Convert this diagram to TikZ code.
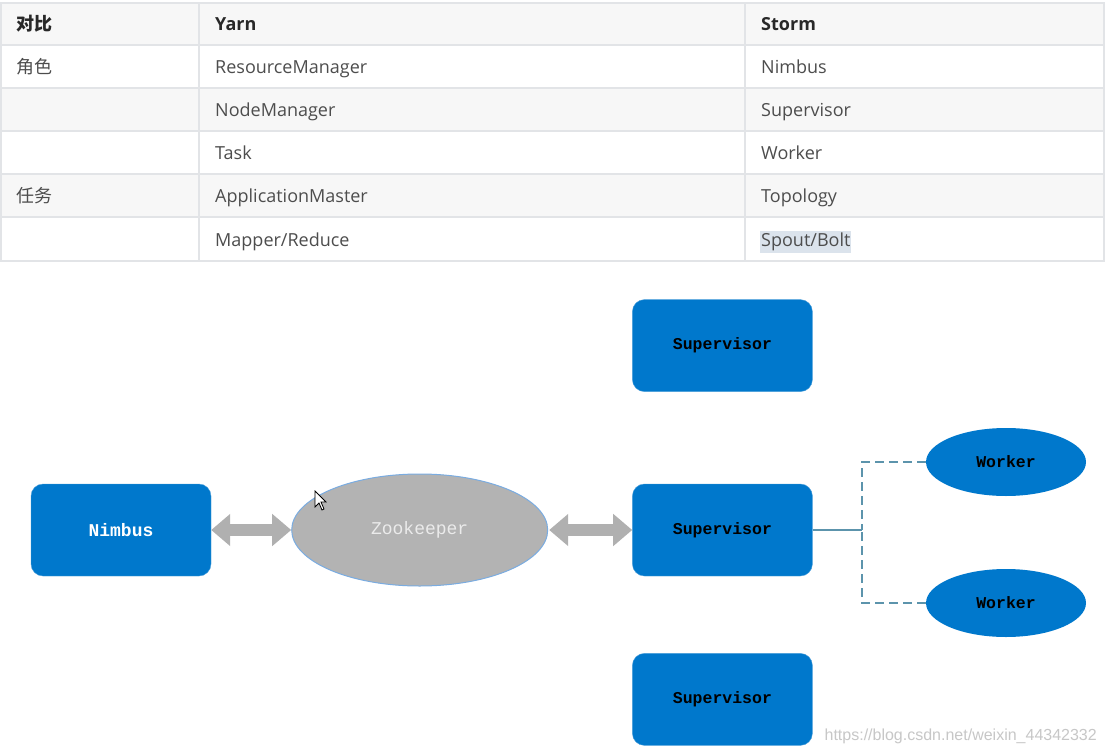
\documentclass[tikz,border=0pt]{standalone}
\usepackage{fontspec}
\setmainfont{Open Sans}
\newfontfamily\cjk{Noto Sans CJK SC}
\newfontfamily\boxfont{Liberation Mono}
\newfontfamily\markfont{Liberation Sans}
\usetikzlibrary{positioning, shapes.geometric, arrows.meta}

\definecolor{stormblue}{RGB}{0,120,204}
\definecolor{zkgray}{RGB}{179,179,179}
\definecolor{zkedge}{RGB}{122,172,225}
\definecolor{arrowgray}{RGB}{176,176,176}
\definecolor{linkteal}{RGB}{92,148,172}
\definecolor{gridline}{RGB}{226,228,231}
\definecolor{rowgray}{RGB}{247,247,247}
\definecolor{cellink}{RGB}{77,77,77}
\definecolor{headink}{RGB}{40,40,40}
\definecolor{marklight}{RGB}{219,227,236}

\tikzset{
  cell/.style={anchor=base west, inner sep=0pt, text=cellink, font=\fontsize{18}{20}\selectfont},
  headcell/.style={cell, text=headink, font=\fontsize{18}{20}\selectfont\bfseries},
  daemon/.style={rectangle, rounded corners=12pt, fill=stormblue, draw=stormblue!70!white,
                 minimum width=180pt, minimum height=92pt, inner sep=0pt,
                 font=\boxfont\bfseries\fontsize{16.5}{18}\selectfont},
  worker/.style={ellipse, fill=stormblue, draw=none, minimum width=160pt, minimum height=68pt,
                 inner sep=0pt, font=\boxfont\bfseries\fontsize{16.5}{18}\selectfont},
  blockarrow/.style={draw=arrowgray, line width=12pt,
                     {Triangle[length=19pt,width=31pt]}-{Triangle[length=19pt,width=31pt]}},
  link/.style={draw=linkteal, line width=1.2pt}
}

\begin{document}
\begin{tikzpicture}[x=1pt, y=-1pt]
  \useasboundingbox[fill=white] (0,0) rectangle (1105,754);

  % table
  \fill[rowgray] (1,3) rectangle (1104,45);
  \fill[rowgray] (1,88) rectangle (1104,131);
  \fill[rowgray] (1,174) rectangle (1104,217);
  \foreach \y in {45,88,131,174,217}
    \draw[gridline, line width=1.2pt] (1,\y) -- (1104,\y);
  \draw[gridline, line width=1.2pt] (199,3) -- (199,261);
  \draw[gridline, line width=1.2pt] (745,3) -- (745,261);
  \draw[gridline, line width=1.2pt] (1,3) rectangle (1104,261);

  \node[headcell] (h1) at (16,30.5) {\cjk\bfseries 对比};
  \node[headcell] (h2) at (215,30.5) {Yarn};
  \node[headcell] (h3) at (761,30.5) {Storm};

  \foreach \y/\a/\b/\c [count=\i] in {74/角色/ResourceManager/Nimbus,
                                      117//NodeManager/Supervisor,
                                      160//Task/Worker,
                                      203/任务/ApplicationMaster/Topology} {
    \node[cell] (a\i) at (16,\y) {\cjk\a};
    \node[cell] (b\i) at (215,\y) {\b};
    \node[cell] (c\i) at (761,\y) {\c};
  }
  \node[cell] (b5) at (215,246.5) {Mapper/Reduce};
  \node[cell,
        fill=marklight,
        inner xsep=1pt,
        inner ysep=2pt] (c5) at (760,246.5) {Spout/Bolt};

  % storm cluster
  \node[daemon,
        text=white,
        font=\boxfont\bfseries\fontsize{18}{20}\selectfont] (n) at (121,530) {Nimbus};
  \node[ellipse,
        right=80pt of n,
        fill=zkgray,
        draw=zkedge,
        line width=1pt,
        minimum width=256pt,
        minimum height=112pt,
        text=white!92!black,
        font=\boxfont\fontsize{18}{20}\selectfont] (z) {Zookeeper};
  \node[daemon,
        right=84pt of z] (s2) {Supervisor};
  \node[daemon,
        above=92pt of s2] (s1) {Supervisor};
  \node[daemon,
        below=77pt of s2] (s3) {Supervisor};

  \node[worker] (w1) at (1006,462) {Worker};
  \node[worker] (w2) at (1006,603) {Worker};
  \coordinate (hub) at (862,530);

  \draw[blockarrow] (n.east) -- (z.west);
  \draw[blockarrow] ([xshift=1pt]z.east) -- (s2.west);

  \draw[link] (s2.east) -- (hub);
  \draw[link, dash pattern=on 9pt off 5pt] (w1.west) -| (hub);
  \draw[link, dash pattern=on 9pt off 5pt] (w2.west) -| (hub);

  % mouse pointer
  \filldraw[fill=white, draw=black, line width=0.8pt]
    (315,491) -- (315,507) -- (319,503) -- (322,510) -- (324,509) -- (321,502) -- (326,502) -- cycle;

  \node[anchor=east,
        inner sep=0pt,
        text=black!22,
        font=\markfont\fontsize{16}{18}\selectfont] (mark) at (1097,736) {https://blog.csdn.net/weixin\_44342332};
\end{tikzpicture}
\end{document}
